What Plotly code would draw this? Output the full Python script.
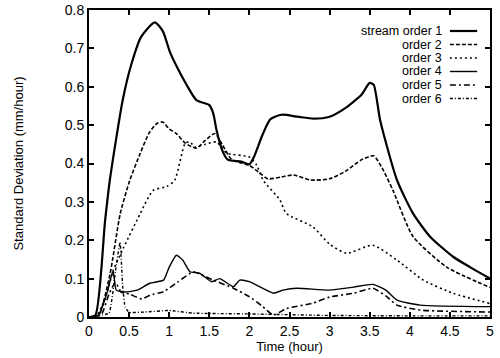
import plotly.graph_objects as go

# ---- data ----
t1 = [0, 0.08, 0.2, 0.26, 0.42, 0.53, 0.65, 0.82, 0.92, 1.01, 1.1, 1.22, 1.34, 1.5, 1.55, 1.59, 1.66, 1.73, 1.9, 2.0, 2.05, 2.17, 2.26, 2.4, 2.6, 2.8, 3.0, 3.2, 3.4, 3.5, 3.55, 3.63, 3.84, 4.04, 4.25, 4.54, 4.75, 5.0]
v1 = [0, 0.005, 0.25, 0.357, 0.565, 0.66, 0.73, 0.768, 0.745, 0.69, 0.65, 0.604, 0.565, 0.552, 0.53, 0.487, 0.435, 0.41, 0.405, 0.398, 0.414, 0.478, 0.515, 0.527, 0.522, 0.517, 0.522, 0.545, 0.58, 0.61, 0.605, 0.513, 0.357, 0.27, 0.21, 0.157, 0.13, 0.1]

t2 = [0, 0.12, 0.26, 0.39, 0.51, 0.64, 0.75, 0.85, 0.92, 1.0, 1.09, 1.2, 1.34, 1.45, 1.57, 1.66, 1.78, 2.0, 2.13, 2.23, 2.4, 2.55, 2.76, 3.0, 3.2, 3.4, 3.55, 3.65, 3.79, 4.04, 4.46, 5.0]
v2 = [0, 0.005, 0.11, 0.27, 0.357, 0.427, 0.48, 0.505, 0.508, 0.49, 0.478, 0.453, 0.44, 0.46, 0.478, 0.45, 0.41, 0.395, 0.375, 0.36, 0.365, 0.37, 0.357, 0.36, 0.38, 0.41, 0.42, 0.39, 0.33, 0.21, 0.13, 0.077]

t3 = [0, 0.1, 0.22, 0.3, 0.43, 0.64, 0.8, 0.97, 1.07, 1.2, 1.26, 1.32, 1.45, 1.59, 1.72, 2.0, 2.09, 2.17, 2.38, 2.46, 2.79, 3.0, 3.21, 3.54, 3.84, 4.17, 4.54, 5.0]
v3 = [0, 0.005, 0.06, 0.12, 0.18, 0.27, 0.33, 0.34, 0.357, 0.453, 0.456, 0.443, 0.45, 0.456, 0.427, 0.417, 0.396, 0.357, 0.305, 0.27, 0.235, 0.19, 0.166, 0.187, 0.148, 0.096, 0.062, 0.035]

t4 = [0, 0.12, 0.22, 0.3, 0.34, 0.45, 0.6, 0.76, 0.93, 1.0, 1.09, 1.17, 1.26, 1.38, 1.53, 1.63, 1.8, 1.88, 2.0, 2.3, 2.42, 2.59, 3.0, 3.3, 3.54, 3.7, 3.84, 4.13, 5.0]
v4 = [0, 0.005, 0.06, 0.12, 0.07, 0.065, 0.07, 0.088, 0.096, 0.13, 0.161, 0.148, 0.118, 0.114, 0.092, 0.1, 0.079, 0.096, 0.092, 0.062, 0.07, 0.075, 0.07, 0.078, 0.085, 0.07, 0.044, 0.031, 0.027]

t5 = [0, 0.15, 0.25, 0.33, 0.4, 0.5, 0.66, 0.76, 0.93, 1.1, 1.3, 1.4, 1.55, 1.8, 2.0, 2.15, 2.3, 2.46, 2.79, 3.0, 3.3, 3.54, 3.7, 3.84, 4.13, 5.0]
v5 = [0, 0.005, 0.06, 0.09, 0.065, 0.06, 0.047, 0.057, 0.066, 0.09, 0.118, 0.11, 0.096, 0.075, 0.053, 0.03, 0.005, 0.022, 0.036, 0.052, 0.062, 0.075, 0.055, 0.031, 0.018, 0.013]

t6 = [0, 0.25, 0.33, 0.387, 0.42, 0.45, 0.5, 0.7, 1.0, 1.3, 2.0, 3.0, 4.0, 5.0]
v6 = [0, 0.01, 0.12, 0.195, 0.08, 0.026, 0.012, 0.013, 0.017, 0.01, 0.008, 0.004, 0.003, 0.003]

names = ["stream order 1", "order 2", "order 3", "order 4", "order 5", "order 6"]
xticks = [0, 0.5, 1, 1.5, 2, 2.5, 3, 3.5, 4, 4.5, 5]
xticklabels = ["0", "0.5", "1", "1.5", "2", "2.5", "3", "3.5", "4", "4.5", "5"]
yticks = [0, 0.1, 0.2, 0.3, 0.4, 0.5, 0.6, 0.7, 0.8]
yticklabels = ["0", "0.1", "0.2", "0.3", "0.4", "0.5", "0.6", "0.7", "0.8"]

series = [(t1, v1), (t2, v2), (t3, v3), (t4, v4), (t5, v5), (t6, v6)]
dashes = ["solid", "4px,2px", "2px,3px", "solid", "6px,3px,2px,3px", "3px,2px,1px,2px"]
widths = [2.2, 1.6, 1.6, 1.4, 1.6, 1.4]
smooth = [0.6, 0.6, 0.6, 0.5, 0.5, 0.3]

FONT = "Liberation Sans, Arial, Helvetica"

fig = go.Figure()
for (t, v), nm, d, w, s in zip(series, names, dashes, widths, smooth):
    fig.add_trace(go.Scatter(x=t, y=v, mode="lines", name=nm,
                             line=dict(color="black", width=w, dash=d,
                                       shape="spline", smoothing=s),
                             showlegend=False))

# hand-made legend: text right, sample line to its right
ly = [0.9316, 0.8876, 0.8436, 0.7997, 0.7557, 0.7117]
for nm, d, w, y in zip(names, dashes, widths, ly):
    fig.add_annotation(x=0.885, y=y, xref="paper", yref="paper", text=nm,
                       showarrow=False, xanchor="right", yanchor="middle",
                       font=dict(family=FONT, size=12.5, color="black"))
    fig.add_shape(type="line", xref="paper", yref="paper", x0=0.9, x1=0.968, y0=y, y1=y,
                  line=dict(color="black", width=w, dash=d))

axis_common = dict(showline=True, linecolor="black", linewidth=2, mirror="ticks",
                   ticks="inside", ticklen=5, tickwidth=1.5, tickcolor="black",
                   showgrid=False, zeroline=False, automargin=False,
                   tickfont=dict(family=FONT, size=14, color="black"))

fig.update_xaxes(range=[0, 5], tickvals=xticks, ticktext=xticklabels,
                 title=dict(text="Time (hour)", standoff=0,
                            font=dict(family=FONT, size=13, color="black")),
                 **axis_common)
fig.update_yaxes(range=[0, 0.8], tickvals=yticks, ticktext=yticklabels,
                 title=dict(text="Standard Deviation (mm/hour)", standoff=38,
                            font=dict(family=FONT, size=13, color="black")),
                 **axis_common)

fig.update_layout(width=500, height=358, margin=dict(l=89, r=10, t=10, b=41),
                  plot_bgcolor="white", paper_bgcolor="white")

fig.write_html("out.html", config={"displayModeBar": False},
               post_script="document.body.style.margin='0';")
